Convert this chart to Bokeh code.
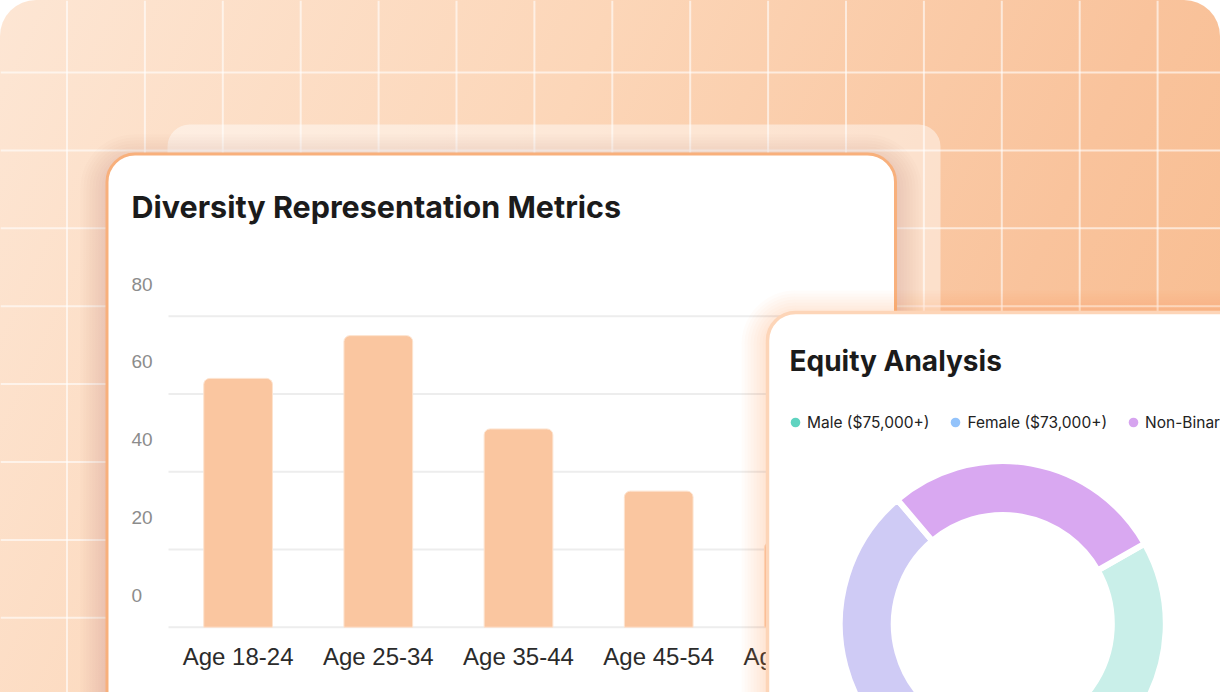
import numpy as np
from bokeh.plotting import figure
from bokeh.models import Range1d, LinearAxis, FixedTicker, ColumnDataSource
from bokeh.core.properties import value
from bokeh.embed import file_html
from bokeh.resources import INLINE

# ---------------- data ----------------
age_groups = ["Age 18-24", "Age 25-34", "Age 35-44", "Age 45-54", "Age 55-64"]
representation = [64, 75, 51, 35, 22]
y_ticks = [0, 20, 40, 60, 80]

equity_groups = ["Male ($75,000+)", "Female ($73,000+)", "Non-Binary ($72,000+)"]
equity_share = [36, 36, 28]

# ---------------- styles ----------------
segment_colors = ["#c9efe9", "#cfcbf5", "#d9a8f1"]
legend_colors = ["#5fd3c0", "#93c3fb", "#d6a4ef"]
bar_color = "#fac6a0"
title_font = "Inter"
axis_font = "Liberation Sans"

# ---------------- layout (pixels) ----------------
W, H = 1220, 692
BAR_X0, BAR_DX = 237.6, 140.2        # centre of first category, spacing
BASE_Y, PX_PER_UNIT = 626.7, 77.75 / 20
LABEL_SHIFT = 32                     # y tick labels sit above their grid line
DONUT_CX, DONUT_CY = 1002.3, 623.5
DONUT_START = np.deg2rad(29.5)

p = figure(width=W, height=H, x_range=Range1d(0, W), y_range=Range1d(H, 0),
           x_axis_type=None, y_axis_type=None, output_backend="svg",
           toolbar_location=None, min_border=0,
           styles={"background": "linear-gradient(115deg, #fde6d4 0%, #fcd6b8 40%, #f9c39c 75%, #f8bb8c 100%)",
                   "border-radius": "36px 36px 0 0", "overflow": "hidden"})
p.background_fill_alpha = 0
p.border_fill_alpha = 0
p.outline_line_color = None

p.extra_x_ranges = {"bx": Range1d(-BAR_X0 / BAR_DX, (W - BAR_X0) / BAR_DX)}
p.extra_y_ranges = {
    "by": Range1d(-(H - BASE_Y) / PX_PER_UNIT, BASE_Y / PX_PER_UNIT),
    "bl": Range1d(-(H - BASE_Y + LABEL_SHIFT) / PX_PER_UNIT, (BASE_Y - LABEL_SHIFT) / PX_PER_UNIT),
}

# ---------------- background grid ----------------
gx = np.arange(66.5, W, 77.9)
gy = np.arange(72, H, 77.9)
p.segment(x0=gx, y0=0, x1=gx, y1=H, line_color="white", line_alpha=0.6, line_width=2, level="image")
p.segment(x0=0, y0=gy, x1=W, y1=gy, line_color="white", line_alpha=0.6, line_width=2, level="image")

# translucent back card
p.quad(left=167, right=940, top=124, bottom=H + 60, fill_color="white", fill_alpha=0.45,
       line_color=None, border_radius=22, level="image")

# bar card shadow + card
for i in range(9):
    e = 3 * i + 2
    p.quad(left=106 - e, right=895 + e, top=160 - e, bottom=H + 60, fill_color="#6b4a3a",
           fill_alpha=0.016, line_color=None, border_radius=28 + e, level="image")
p.quad(left=106.5, right=895, top=153.5, bottom=H + 60, fill_color="white",
       line_color="#f8b07c", line_width=3, border_radius=28, level="image")

# chart grid lines
p.segment(x0=168, x1=892, y0=y_ticks, y1=y_ticks, y_range_name="by",
          line_color="#ededed", line_width=2, level="image")

# bars
p.vbar(x=np.arange(len(age_groups)), top=representation, bottom=0, width=0.49,
       x_range_name="bx", y_range_name="by", fill_color=bar_color, line_color="#fde3cf",
       line_width=1, border_radius=(6, 6, 0, 0))

# axes (fixed inside the frame)
yax = LinearAxis(y_range_name="bl", fixed_location=131, ticker=FixedTicker(ticks=y_ticks),
                 axis_line_color=None, major_tick_line_color=None, minor_tick_line_color=None,
                 major_tick_in=0, major_tick_out=0, major_label_standoff=0,
                 major_label_text_font=axis_font, major_label_text_font_size="19px",
                 major_label_text_color="#8c8c8c", level="underlay")
p.add_layout(yax, "right")

xax = LinearAxis(x_range_name="bx", fixed_location=BASE_Y,
                 ticker=FixedTicker(ticks=list(range(len(age_groups)))),
                 major_label_overrides={i: g for i, g in enumerate(age_groups)},
                 axis_line_color=None, major_tick_line_color=None, minor_tick_line_color=None,
                 major_tick_in=0, major_tick_out=0, major_label_standoff=16,
                 major_label_text_font=axis_font, major_label_text_font_size="24px",
                 major_label_text_color="#2b2b2b", level="underlay")
p.add_layout(xax, "below")

p.text(x=[131], y=[206], text=["Diversity Representation Metrics"], text_baseline="middle",
       text_font=value(title_font), text_font_style="bold", text_font_size="30.5px",
       text_color="#1b1b1b")

# ---------------- equity card ----------------
for i in range(9):
    e = 3 * i + 2
    p.quad(left=767 - e, right=W + 60, top=316 - e, bottom=H + 60, fill_color="#f58a3c",
           fill_alpha=0.028, line_color=None, border_radius=28 + e, level="guide")
p.quad(left=767, right=W + 60, top=312, bottom=H + 60, fill_color="white",
       line_color="#fdd5b8", line_width=3.5, border_radius=28, level="guide")

p.text(x=[789], y=[360], text=["Equity Analysis"], text_baseline="middle",
       text_font=value(title_font), text_font_style="bold", text_font_size="28px",
       text_color="#1b1b1b", level="guide")

share = np.array(equity_share, dtype=float)
ang = share / share.sum() * 2 * np.pi
cum = np.cumsum(ang)
eq_src = ColumnDataSource(dict(
    group=equity_groups, share=equity_share,
    start=DONUT_START - (cum - ang), end=DONUT_START - cum,
    seg_color=segment_colors, legend_color=legend_colors,
))
p.annular_wedge(x=DONUT_CX, y=DONUT_CY, inner_radius=109, outer_radius=163,
                inner_radius_units="screen", outer_radius_units="screen",
                start_angle="start", end_angle="end", direction="clock", source=eq_src,
                fill_color="seg_color", line_color="white", line_width=6, line_join="round",
                level="guide")

# legend proxies (zero-size markers, only drawn in the legend)
p.scatter(x=DONUT_CX, y=DONUT_CY, size=0, source=eq_src, fill_color="legend_color",
          line_color=None, legend_field="group", level="guide")
lg = p.legend[0]
lg.orientation = "horizontal"
lg.location = (783, H - 434)
lg.glyph_width = 24
lg.glyph_height = 24
lg.label_standoff = 0
lg.spacing = 14
lg.padding = 0
lg.margin = 0
lg.border_line_color = None
lg.background_fill_alpha = 0
lg.label_text_font = title_font
lg.label_text_font_size = "15.5px"
lg.label_text_color = "#222222"
lg.level = "annotation"

open("out.html", "w").write(file_html(p, INLINE))
